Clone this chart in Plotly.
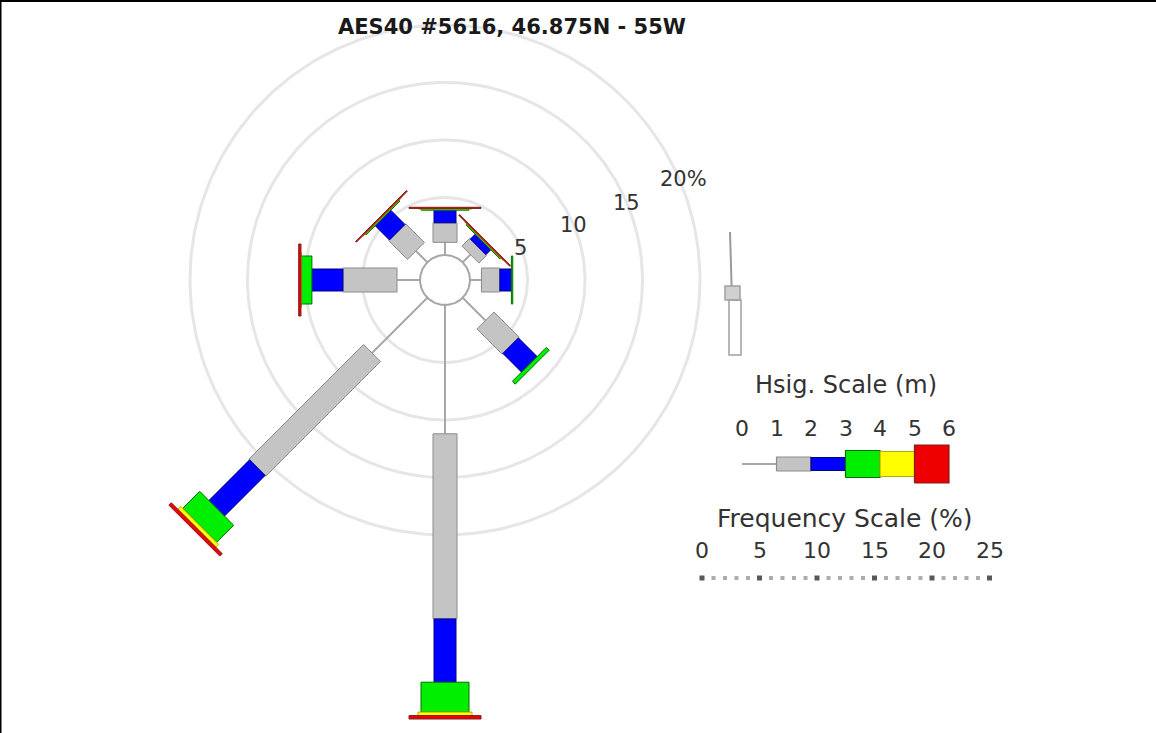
import numpy as np
import plotly.graph_objects as go

# ---- data -------------------------------------------------------------
title_text = "AES40 #5616, 46.875N - 55W"
directions = ["N", "NE", "E", "SE", "S", "SW", "W", "NW"]
bearing_deg = [0, 45, 90, 135, 180, 225, 270, 315]

# frequency of occurrence (%) per Hsig class, per direction
hs_0_1 = [1.1, 0.95, 1.0, 2.8, 11.2, 6.8, 2.0, 1.4]
hs_1_2 = [1.7, 0.95, 1.6, 3.1, 16.1, 14.1, 4.7, 2.3]
hs_2_3 = [1.1, 0.6, 1.0, 2.3, 5.5, 5.0, 2.7, 1.75]
hs_3_4 = [0.1, 0.1, 0.12, 0.35, 2.6, 2.1, 0.9, 0.1]
hs_4_5 = [0.05, 0.05, 0.0, 0.0, 0.3, 0.35, 0.05, 0.05]
hs_5_6 = [0.1, 0.1, 0.0, 0.0, 0.3, 0.3, 0.2, 0.1]

ring_levels = [5, 10, 15, 20]
ring_labels = ["5", "10", "15", "20%"]
hs_ticks = [0, 1, 2, 3, 4, 5, 6]
freq_ticks = [0, 5, 10, 15, 20, 25]

# ---- styling ----------------------------------------------------------
W, H = 1156, 733
PX = 11.5                 # pixels per 1 % of frequency
CX, CY = 445, 280         # rose centre (pixels)
R0 = 25 / PX              # radius of the central circle (frequency units)

class_fill = ["#a8a8a8", "#c4c4c4", "#0000ff", "#00ee00", "#ffff00", "#ee0000"]
class_edge = ["#a8a8a8", "#8c8c8c", "#000080", "#007000", "#b0b000", "#802020"]
rose_width = [0, 24, 22, 48, 54, 72]          # bar widths on the rose (px)
key_width = [0, 14, 13, 27, 25, 38]           # bar widths in the Hsig key (px)
FONT = "DejaVu Sans"
TXT = "#333333"

x_range = [-CX / PX, (W - CX) / PX]
y_range = [-(H - CY) / PX, CY / PX]


def u(px_x, px_y):
    """pixel position -> plot units"""
    return (px_x - CX) / PX, (CY - px_y) / PX


fig = go.Figure()

# range rings
th = np.linspace(0, 2 * np.pi, 241)
for lev in ring_levels:
    r = R0 + lev
    fig.add_trace(go.Scatter(x=r * np.sin(th), y=r * np.cos(th), mode="lines",
                             line=dict(color="#e6e6e6", width=3),
                             hoverinfo="skip", showlegend=False))

# ring labels along the ENE radial
lab_b = np.deg2rad(67)
for lev, txt in zip(ring_levels, ring_labels):
    r = R0 + lev + (0.35 if txt.endswith("%") else 0)
    fig.add_annotation(x=r * np.sin(lab_b), y=r * np.cos(lab_b), text=txt,
                       showarrow=False, font=dict(family=FONT, size=21, color=TXT),
                       xanchor="center", yanchor="middle")

# stacked rose bars
classes = [hs_0_1, hs_1_2, hs_2_3, hs_3_4, hs_4_5, hs_5_6]
polys = [([], []) for _ in classes]
for j, b in enumerate(bearing_deg):
    t = np.deg2rad(b)
    ux, uy = np.sin(t), np.cos(t)
    nx, ny = np.cos(t), -np.sin(t)
    d = R0
    for k, series in enumerate(classes):
        d1 = d + series[j]
        if series[j] > 0:
            hw = rose_width[k] / PX / 2
            xs, ys = polys[k]
            if k == 0:
                xs += [ux * d, ux * d1, None]
                ys += [uy * d, uy * d1, None]
            else:
                xs += [ux * d + nx * hw, ux * d1 + nx * hw, ux * d1 - nx * hw,
                       ux * d - nx * hw, ux * d + nx * hw, None]
                ys += [uy * d + ny * hw, uy * d1 + ny * hw, uy * d1 - ny * hw,
                       uy * d - ny * hw, uy * d + ny * hw, None]
        d = d1

for k, (xs, ys) in enumerate(polys):
    if k == 0:
        fig.add_trace(go.Scatter(x=xs, y=ys, mode="lines",
                                 line=dict(color=class_fill[0], width=2),
                                 hoverinfo="skip", showlegend=False))
    else:
        fig.add_trace(go.Scatter(x=xs, y=ys, mode="lines", fill="toself",
                                 fillcolor=class_fill[k],
                                 line=dict(color=class_edge[k], width=1),
                                 hoverinfo="skip", showlegend=False))

# central circle
fig.add_trace(go.Scatter(x=R0 * np.sin(th), y=R0 * np.cos(th), mode="lines",
                         fill="toself", fillcolor="white",
                         line=dict(color="#a6a6a6", width=2),
                         hoverinfo="skip", showlegend=False))

# ---- Hsig key ---------------------------------------------------------
m0x, _ = u(742, 0)
m_step = 34.5 / PX
_, key_y = u(0, 464)
_, key_lab_y = u(0, 428)
kx, ky = u(846, 385)
fig.add_annotation(x=kx, y=ky, text="Hsig. Scale (m)", showarrow=False,
                   font=dict(family=FONT, size=24, color=TXT))
for m in hs_ticks:
    fig.add_annotation(x=m0x + m * m_step, y=key_lab_y, text=str(m), showarrow=False,
                       font=dict(family=FONT, size=22, color=TXT))
for k in range(6):
    xa = m0x + hs_ticks[k] * m_step
    xb = m0x + hs_ticks[k + 1] * m_step
    if k == 0:
        fig.add_trace(go.Scatter(x=[xa, xb], y=[key_y, key_y], mode="lines",
                                 line=dict(color=class_fill[0], width=2),
                                 hoverinfo="skip", showlegend=False))
    else:
        hw = key_width[k] / PX / 2
        fig.add_trace(go.Scatter(x=[xa, xb, xb, xa, xa],
                                 y=[key_y - hw, key_y - hw, key_y + hw, key_y + hw, key_y - hw],
                                 mode="lines", fill="toself", fillcolor=class_fill[k],
                                 line=dict(color=class_edge[k], width=1.2),
                                 hoverinfo="skip", showlegend=False))

# ---- frequency key ----------------------------------------------------
f0x, _ = u(702, 0)
_, fq_lab_y = u(0, 550)
_, fq_dot_y = u(0, 578)
fx, fy = u(845, 518)
fig.add_annotation(x=fx, y=fy, text="Frequency Scale (%)", showarrow=False,
                   font=dict(family=FONT, size=25, color=TXT))
for v in freq_ticks:
    fig.add_annotation(x=f0x + v, y=fq_lab_y, text=str(v), showarrow=False,
                       font=dict(family=FONT, size=22, color=TXT))
dots = np.arange(freq_ticks[0], freq_ticks[-1] + 1)
major = [v % 5 == 0 for v in dots]
fig.add_trace(go.Scatter(x=f0x + dots, y=[fq_dot_y] * len(dots), mode="markers",
                         marker=dict(symbol="square",
                                     size=[5 if mj else 4 for mj in major],
                                     color=["#111111" if mj else "#8a8a8a" for mj in major],
                                     line=dict(width=0)),
                         hoverinfo="skip", showlegend=False))

# ---- small north glyph ------------------------------------------------
gx0, gy0 = u(730, 232)
gx1, gy1 = u(732, 300)
fig.add_shape(type="line", x0=gx0, y0=gy0, x1=gx1, y1=gy1,
              line=dict(color="#9a9a9a", width=2))
bx0, by0 = u(725, 286)
bx1, by1 = u(740, 300)
fig.add_shape(type="rect", x0=bx0, y0=by0, x1=bx1, y1=by1,
              line=dict(color="#a0a0a0", width=1.5), fillcolor="#d0d0d0")
rx0, ry0 = u(729, 300)
rx1, ry1 = u(741, 355)
fig.add_shape(type="rect", x0=rx0, y0=ry0, x1=rx1, y1=ry1,
              line=dict(color="#a0a0a0", width=1.5))

# ---- frame & title ----------------------------------------------------
fig.add_shape(type="line", xref="paper", yref="paper", x0=0, y0=1, x1=1, y1=1,
              line=dict(color="black", width=4))
fig.add_shape(type="line", xref="paper", yref="paper", x0=0, y0=0, x1=0, y1=1,
              line=dict(color="black", width=3))
fig.add_annotation(xref="paper", yref="paper", x=512 / W, y=1 - 27 / H,
                   text="<b>" + title_text + "</b>", showarrow=False,
                   font=dict(family=FONT, size=21, color="#1a1a1a"),
                   xanchor="center", yanchor="middle")

fig.update_layout(
    width=W, height=H, margin=dict(l=0, r=0, t=0, b=0),
    paper_bgcolor="white", plot_bgcolor="white",
    xaxis=dict(range=x_range, visible=False, fixedrange=True),
    yaxis=dict(range=y_range, visible=False, fixedrange=True),
    showlegend=False,
)

fig.write_html("out.html")
